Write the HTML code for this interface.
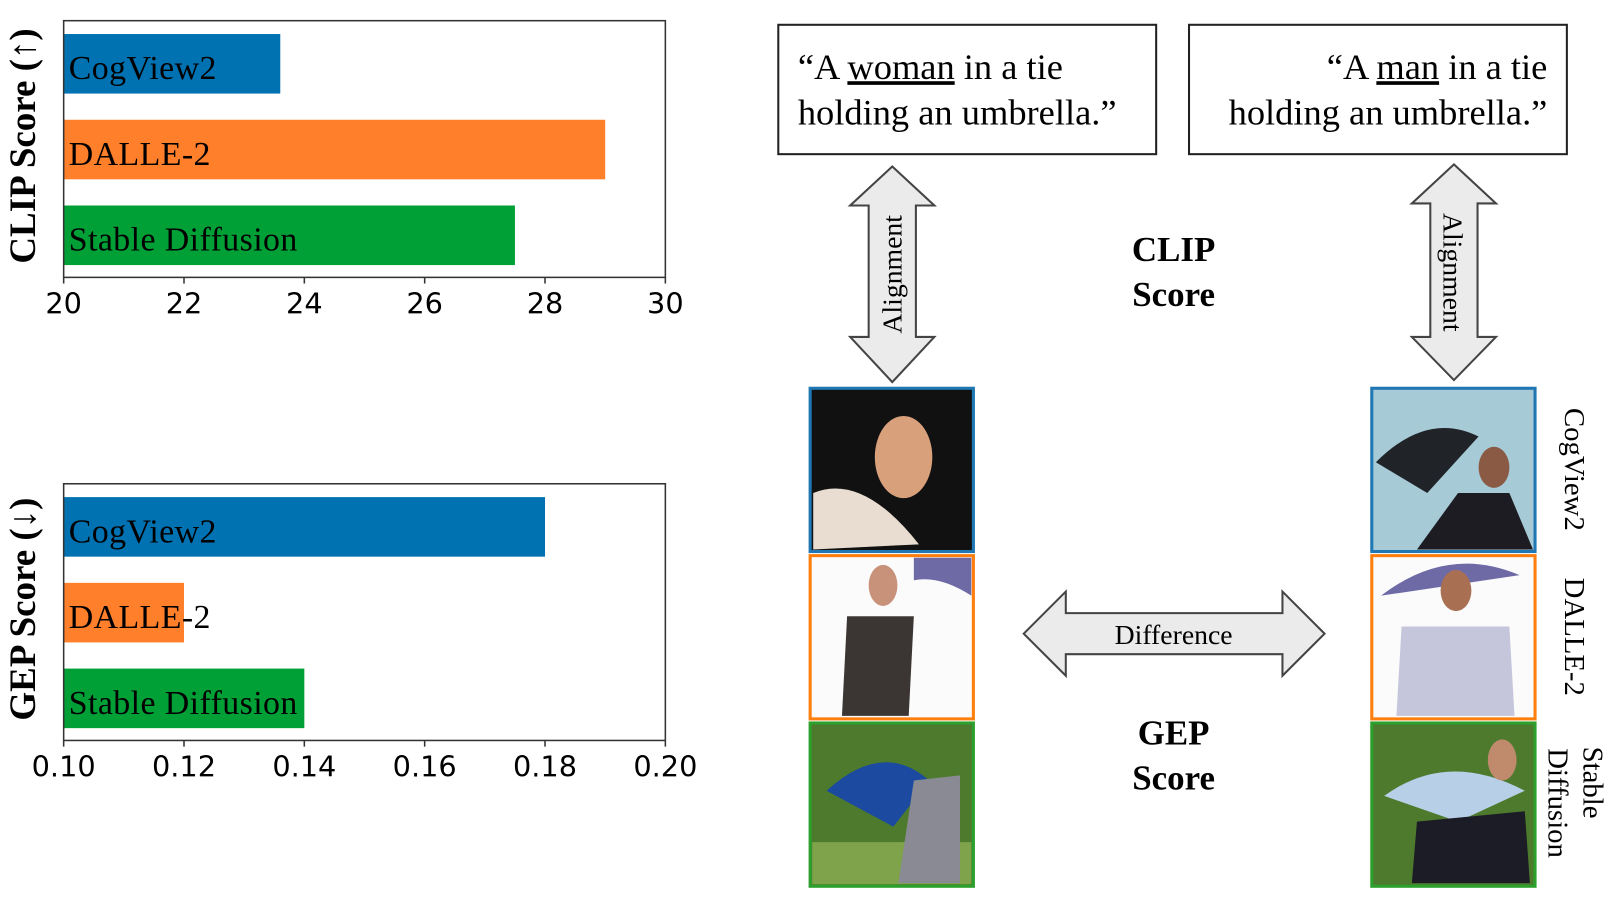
<!DOCTYPE html>
<html><head><meta charset="utf-8"><style>
html,body{margin:0;padding:0;background:#fff;width:1610px;height:909px;overflow:hidden}
svg text{font-family:"Liberation Serif",serif}
.sans{font-family:"DejaVu Sans","Liberation Sans",sans-serif}
</style></head><body>
<svg id="fig" width="1610" height="909" viewBox="0 0 1568 885" xmlns="http://www.w3.org/2000/svg">
<g id="charts"></g>
<g>
<rect x="758" y="24" width="368" height="126" fill="#fff" stroke="#222" stroke-width="2"/>
<text x="777" y="77" font-size="35.5">“A <tspan text-decoration="underline">woman</tspan> in a tie</text>
<text x="777" y="121" font-size="35.5">holding an umbrella.”</text>
</g>
<g>
<rect x="1158" y="24" width="368" height="126" fill="#fff" stroke="#222" stroke-width="2"/>
<text x="1507" y="77" font-size="35.5" text-anchor="end">“A <tspan text-decoration="underline">man</tspan> in a tie</text>
<text x="1507" y="121" font-size="35.5" text-anchor="end">holding an umbrella.”</text>
</g>
<g>
<polygon points="869,162 910,200 892,200 892,328 910,328 869,372 828,328 846,328 846,200 828,200" fill="#ebebeb" stroke="#444" stroke-width="2"/>
<text transform="translate(878,267) rotate(-90)" font-size="27" text-anchor="middle">Alignment</text>
</g>
<g>
<polygon points="1416,160 1457,198 1439,198 1439,328 1457,328 1416,370 1375,328 1393,328 1393,198 1375,198" fill="#ebebeb" stroke="#444" stroke-width="2"/>
<text transform="translate(1406,265) rotate(90)" font-size="27" text-anchor="middle">Alignment</text>
</g>
<text x="1143" y="254" font-size="34" font-weight="bold" text-anchor="middle">CLIP</text>
<text x="1143" y="298" font-size="34" font-weight="bold" text-anchor="middle">Score</text>
<g>
<polygon points="997,617 1038,576 1038,597 1249,597 1249,576 1290,617 1249,658 1249,637 1038,637 1038,658" fill="#ebebeb" stroke="#444" stroke-width="2"/>
<text x="1143" y="627" font-size="27" text-anchor="middle">Difference</text>
</g>
<text x="1143" y="725" font-size="34" font-weight="bold" text-anchor="middle">GEP</text>
<text x="1143" y="769" font-size="34" font-weight="bold" text-anchor="middle">Score</text>
<g>
<rect x="789" y="378" width="159" height="159" fill="#111" stroke="#1f77b4" stroke-width="3"/>
<ellipse cx="880" cy="445" rx="28" ry="40" fill="#d9a07c"/><path d="M792 480 Q840 460 895 530 L792 535Z" fill="#e8ddd0"/>
</g>
<g>
<rect x="789" y="541" width="159" height="159" fill="#fbfbfb" stroke="#ff7f0e" stroke-width="3"/>
<path d="M890 543 L946 543 L946 580 Q915 560 890 565Z" fill="#6e6aa6"/><path d="M825 600 L890 600 L885 697 L820 697Z" fill="#3b3633"/><ellipse cx="860" cy="570" rx="14" ry="20" fill="#c8927a"/>
</g>
<g>
<rect x="789" y="704" width="159" height="159" fill="#4d7a2c" stroke="#2ca02c" stroke-width="3"/>
<rect x="791" y="820" width="155" height="41" fill="#7ea34b"/><path d="M805 770 Q860 720 905 760 L870 805Z" fill="#1b4aa0"/><path d="M890 760 L935 755 L935 860 L875 860Z" fill="#8a8a94"/>
</g>
<g>
<rect x="1336" y="378" width="159" height="159" fill="#a7cbd6" stroke="#1f77b4" stroke-width="3"/>
<path d="M1340 450 Q1390 400 1440 425 L1390 480Z" fill="#202428"/><path d="M1380 535 L1420 480 L1470 480 L1493 535Z" fill="#1c1c22"/><ellipse cx="1455" cy="455" rx="15" ry="20" fill="#8b5a44"/>
</g>
<g>
<rect x="1336" y="541" width="159" height="159" fill="#fbfbfb" stroke="#ff7f0e" stroke-width="3"/>
<path d="M1345 580 Q1410 530 1480 560 Z" fill="#6e6aa6"/><path d="M1365 610 L1470 610 L1475 697 L1360 697Z" fill="#c5c6db"/><ellipse cx="1418" cy="575" rx="15" ry="20" fill="#a86f52"/>
</g>
<g>
<rect x="1336" y="704" width="159" height="159" fill="#4d7a2c" stroke="#2ca02c" stroke-width="3"/>
<path d="M1348 775 Q1410 730 1485 770 L1420 800Z" fill="#b8cfe8"/><path d="M1380 800 L1485 790 L1490 860 L1375 860Z" fill="#1c1c26"/><ellipse cx="1463" cy="740" rx="14" ry="20" fill="#c08a6c"/>
</g>
<text transform="translate(1524,457) rotate(90)" font-size="28" text-anchor="middle">CogView2</text>
<text transform="translate(1524,620) rotate(90)" font-size="28" text-anchor="middle">DALLE-2</text>
<text transform="translate(1542,762) rotate(90)" font-size="28" text-anchor="middle">Stable</text>
<text transform="translate(1508,782) rotate(90)" font-size="28" text-anchor="middle">Diffusion</text>
</svg>
<script>
const models = ["CogView2","DALLE-2","Stable Diffusion"];
const clipValues = [23.6, 29.0, 27.5];
const gepValues = [0.18, 0.12, 0.14];
const clipTicks = ["20","22","24","26","28","30"];
const gepTicks = ["0.10","0.12","0.14","0.16","0.18","0.20"];
const colors = ["#0072b2","#ff7f2a","#00a036"];
const NS="http://www.w3.org/2000/svg";
const g=document.getElementById('charts');
function mk(tag,attrs,parent){const e=document.createElementNS(NS,tag);for(const k in attrs)e.setAttribute(k,attrs[k]);(parent||g).appendChild(e);return e;}
function chart(name,top,vals,ticks,min,max,title){
  const L=62,R=648,B=top+250;
  const x=v=>L+(v-min)/(max-min)*(R-L);
  const grp=mk('g',{});
  
  
  vals.forEach((v,i)=>{
    const y=top+13+i*83.5;
    const r=mk('rect',{x:L,y:y,width:x(v)-L,height:58,fill:colors[i]},grp);
    
    
    const t=mk('text',{x:L+5,y:y+44,'font-size':33,'letter-spacing':0.4},grp);
    t.textContent=models[i];
  });
  mk('rect',{x:L,y:top,width:R-L,height:250,fill:'none',stroke:'#333','stroke-width':1.5},grp);
  ticks.forEach((tk,i)=>{
    const v=min+i*(max-min)/(ticks.length-1);const xx=x(v);
    mk('line',{x1:xx,x2:xx,y1:B,y2:B+6,stroke:'#333','stroke-width':1.5},grp);
    const t=mk('text',{x:xx,y:B+35,'font-size':28,'text-anchor':'middle',class:'sans'},grp);
    t.textContent=tk;
  });
  const yt=mk('text',{transform:`translate(34,${top+122}) rotate(-90)`,'font-size':36,'font-weight':'bold','text-anchor':'middle'},grp);
  
  
  yt.textContent=title;
}
chart('clip',20,clipValues,clipTicks,20,30,'CLIP Score (↑)');
chart('gep',471,gepValues,gepTicks,0.10,0.20,'GEP Score (↓)');
</script>
</body></html>
